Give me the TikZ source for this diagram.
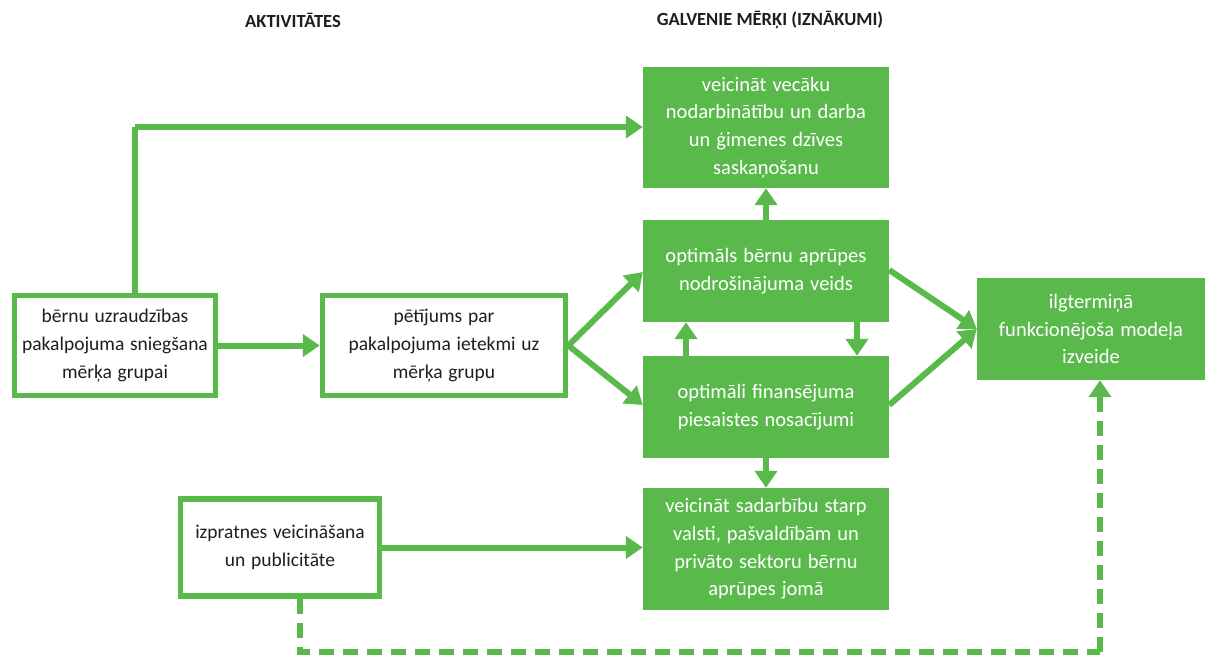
\documentclass[tikz,border=0pt]{standalone}
\usepackage{fontspec}
\setmainfont{Carlito}
\newfontfamily\boxfont[WordSpace=1.8]{Carlito}
\newfontfamily\lboxfont[WordSpace=1.3]{Carlito}
\usetikzlibrary{arrows.meta}
\definecolor{grn}{RGB}{89,185,75}
\definecolor{txt}{RGB}{30,30,30}
\tikzset{
  fillbox/.style={rectangle, fill=grn, draw=none, text=white, align=center, inner sep=0pt,
    font=\boxfont\fontsize{20.5}{27.7}\selectfont},
  linebox/.style={rectangle, fill=white, draw=grn, line width=5.5pt, text=txt, align=center, inner sep=0pt,
    font=\lboxfont\fontsize{19.5}{27.7}\selectfont},
  conn/.style={draw=grn, line width=6pt, -{Triangle[length=17pt,width=22pt]}},
  dconn/.style={conn, dash pattern=on 15pt off 9pt},
  head/.style={font=\fontsize{18.5}{22}\selectfont\bfseries, text=txt, inner sep=0pt}
}
\begin{document}
\begin{tikzpicture}[x=1pt,y=-1pt]
\useasboundingbox (0,0) rectangle (1208,655);
\node[head] (h1) at (293,20) {AKTIVITĀTES};
\node[head] (h2) at (770,20) {GALVENIE MĒRĶI (IZNĀKUMI)};

\node[fillbox, minimum width=246pt, minimum height=121pt] (top) at (766,127.5)
  {veicināt vecāku\\nodarbinātību un darba\\un ģimenes dzīves\\saskaņošanu};
\node[fillbox, minimum width=246pt, minimum height=102pt] (opt) at (766,271)
  {optimāls bērnu aprūpes\\nodrošinājuma veids};
\node[fillbox, minimum width=246pt, minimum height=102pt] (fin) at (766,407)
  {optimāli finansējuma\\piesaistes nosacījumi};
\node[fillbox, minimum width=246pt, minimum height=122pt] (sad) at (766,549)
  {veicināt sadarbību starp\\valsti, pašvaldībām un\\privāto sektoru bērnu\\aprūpes jomā};
\node[fillbox, minimum width=228pt, minimum height=102pt] (ilg) at (1091,329)
  {ilgtermiņā\\funkcionējoša modeļa\\izveide};

\node[linebox, minimum width=201pt, minimum height=100pt] (a) at (115,345.5)
  {bērnu uzraudzības\\pakalpojuma sniegšana\\mērķa grupai};
\node[linebox, minimum width=243pt, minimum height=100pt] (b) at (444,345.5)
  {pētījums par\\pakalpojuma ietekmi uz\\mērķa grupu};
\node[linebox, minimum width=199pt, minimum height=97pt] (izp) at (280,547.5)
  {izpratnes veicināšana\\un publicitāte};

\coordinate (c1) at (135,127);
\coordinate (d1) at (300,652);
\coordinate (d2) at (1100,652);

\draw[conn] (a.east) -- (b.west);
\draw[conn, -] (a.north -| c1) -- (c1);
\draw[conn] (c1) -- (top.west |- c1);
\draw[conn] (b.east) -- (opt.west |- 0,272);
\draw[conn] (b.east) -- (fin.west |- 0,405);
\draw[conn] (opt.north) -- (top.south);
\draw[conn] (fin.north -| 686,0) -- (opt.south -| 686,0);
\draw[conn] (opt.south -| 857,0) -- (fin.north -| 857,0);
\draw[conn] (fin.south) -- (sad.north);
\draw[conn] (opt.east |- 0,270) -- (ilg.west);
\draw[conn] (fin.east |- 0,405) -- (ilg.west);
\draw[conn] (izp.east) -- (sad.west |- izp.east);
\draw[dconn, -] (izp.south -| d1) -- (d1) -- (d2);
\draw[dconn] (d2) -- (ilg.south -| d2);
\end{tikzpicture}
\end{document}
